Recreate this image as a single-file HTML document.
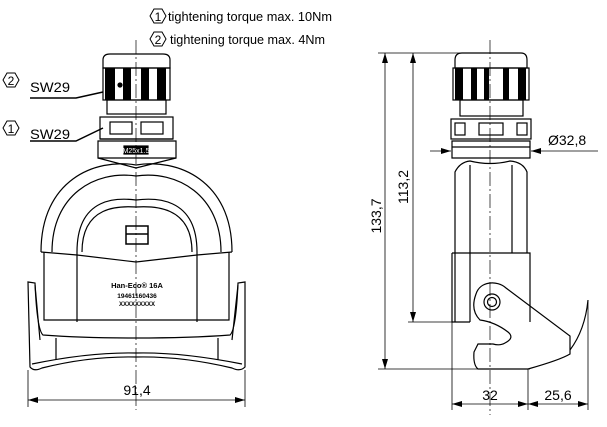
<!DOCTYPE html>
<html><head><style>html,body{margin:0;padding:0;background:#fff}svg{display:block}</style></head>
<body>
<svg width="607" height="427" viewBox="0 0 607 427" xmlns="http://www.w3.org/2000/svg" font-family="Liberation Sans, sans-serif" fill="none" stroke="#000" stroke-width="1.2">
<defs>
<marker id="a" viewBox="0 0 10 6" refX="10" refY="3" markerWidth="10" markerHeight="6" orient="auto-start-reverse" markerUnits="userSpaceOnUse"><path d="M0,0 L10,3 L0,6 Z" fill="#000" stroke="none"/></marker>
</defs>
<!-- top notes -->
<g stroke-width="1">
<polygon points="150,16 154,9 162,9 166,16 162,23 154,23"/>
<polygon points="150,39 154,32 162,32 166,39 162,46 154,46"/>
</g>
<g fill="#000" stroke="none" font-size="13">
<text x="158" y="21" text-anchor="middle" font-size="12">1</text>
<text x="158" y="44" text-anchor="middle" font-size="12">2</text>
<text x="168" y="21" textLength="164" lengthAdjust="spacingAndGlyphs">tightening torque max. 10Nm</text>
<text x="170" y="44" textLength="155" lengthAdjust="spacingAndGlyphs">tightening torque max. 4Nm</text>
</g>
<!-- left labels -->
<g stroke-width="1">
<polygon points="3,80 7,73 15,73 19,80 15,87 7,87"/>
<polygon points="3,128 7,121 15,121 19,128 15,135 7,135"/>
</g>
<g fill="#000" stroke="none" font-size="14">
<text x="11" y="85" text-anchor="middle" font-size="12">2</text>
<text x="11" y="133" text-anchor="middle" font-size="12">1</text>
<text x="30" y="92" textLength="40" lengthAdjust="spacingAndGlyphs">SW29</text>
<text x="30" y="139" textLength="40" lengthAdjust="spacingAndGlyphs">SW29</text>
</g>
<path d="M30,98 H76 L103,92 M30,141 H76 L103,128" stroke-width="1.5"/>
<!-- centre lines -->
<path d="M136,40 V410 M490,40 V415" stroke-width="0.7" stroke-dasharray="14,3,2,3"/>
<!-- FRONT: gland -->
<path d="M103,68 V60 Q103,54 110,54 H163 Q170,54 170,60 V68 Z"/>
<rect x="103" y="68" width="67" height="32"/>
<g fill="#000" stroke="none">
<rect x="105" y="68" width="10" height="32"/><rect x="123" y="68" width="8" height="32"/><rect x="141" y="68" width="8" height="32"/><rect x="157" y="68" width="9" height="32"/>
</g>
<circle cx="120" cy="85" r="2" fill="#000"/>
<rect x="107" y="100" width="59" height="14"/>
<rect x="100" y="117" width="73" height="22"/>
<rect x="110" y="122" width="22" height="12"/><rect x="141" y="122" width="22" height="12"/>
<path d="M100,139 H173 M98,141 H176 V158 H98 Z"/>
<rect x="124" y="146" width="24" height="8" fill="#000"/>
<text x="136" y="153" font-size="7" fill="#fff" stroke="none" text-anchor="middle">M25x1.5</text>
<!-- FRONT: housing -->
<path d="M41,252 C41,180 95,158 136,165 C177,158 232,180 232,252"/>
<path d="M52,252 C52,195 95,170 136,176 C177,170 221,195 221,252"/>
<path d="M98,158 L136,168 L176,158"/>
<path d="M77,252 V322 M197,252 V322"/>
<path d="M77,252 C77,195 120,198 136,200 C152,198 197,195 197,252"/>
<path d="M82,252 C82,205 120,206 136,207 C152,206 192,205 192,252"/>
<path d="M41,252 L77,255 L136,262 L197,255 L232,252"/>
<path d="M44,252 V320 H229 V252"/>
<path d="M126,226 H148 V244 H126 Z M126,234 H148" stroke-width="1.5"/>
<g fill="#000" stroke="none" text-anchor="middle" font-weight="bold">
<text x="137" y="288" font-size="7.5">Han-Eco® 16A</text>
<text x="137" y="298" font-size="6.5">19461160436</text>
<text x="137" y="306" font-size="6">XXXXXXXXX</text>
</g>
<!-- FRONT: frame -->
<path d="M28,282 L30,367 Q34,372 42,368 Q90,356 136,357 Q182,356 232,368 Q240,372 245,367 V282 L238,283 Q236,330 230,335 Q190,338 136,338 Q82,338 43,335 Q37,330 35,283 Z"/>
<path d="M35,285 L40,340 M238,285 L232,340 M56,338 V360 M218,338 V360"/>
<path d="M32,364 Q90,352 136,353 Q182,352 242,364"/>
<!-- dim 91,4 -->
<path d="M28,370 V407 M245,370 V407" stroke-width="0.8"/>
<path d="M28,400 H245" stroke-width="0.8" marker-start="url(#a)" marker-end="url(#a)"/>
<text x="137" y="395" font-size="14" fill="#000" stroke="none" text-anchor="middle">91,4</text>
<!-- SIDE view -->
<path d="M455,68 V60 Q455,53 462,53 H521 Q527,53 527,60 V68 Z"/>
<rect x="453" y="68" width="76" height="32"/>
<g fill="#000" stroke="none">
<rect x="455" y="68" width="8" height="32"/><rect x="471" y="68" width="6" height="32"/><rect x="484" y="68" width="5" height="32"/><rect x="503" y="68" width="6" height="32"/><rect x="518" y="68" width="8" height="32"/>
</g>
<rect x="460" y="100" width="63" height="16"/>
<rect x="451" y="119" width="80" height="20"/>
<rect x="455" y="123" width="10" height="12"/><rect x="479" y="123" width="24" height="12"/><rect x="517" y="123" width="10" height="12"/>
<path d="M452,141 H530 V158 H452 Z M452,147 H530"/>
<path d="M455,322 V172 Q460,162 470,161 Q490,166 510,161 Q523,162 527,172 V253"/>
<path d="M470,165 V322 M512,165 V253"/>
<path d="M452,253 H530 V322 M452,253 V322 H470"/>
<path d="M476,294 C480,281 497,280 506,288 L570,336 L570,354 Q560,360 528,369 L478,369 Q473,365 474,352 L478,344 L493,344 Q500,346 505,343 Q515,338 508,332 Q495,322 480,320 Q470,310 476,294 Z"/>
<circle cx="492" cy="302" r="8"/><circle cx="492" cy="302" r="4.5"/>
<path d="M570,350 Q585,330 588,300"/>
<!-- side dims -->
<g stroke-width="0.8">
<path d="M378,53 H470 M408,322 H455 M378,369 H530"/>
<path d="M385,53 V369" marker-start="url(#a)" marker-end="url(#a)"/>
<path d="M413,53 V322" marker-start="url(#a)" marker-end="url(#a)"/>
<path d="M452,322 V410 M528,369 V410 M588,300 V410"/>
<path d="M452,404 H528" marker-start="url(#a)" marker-end="url(#a)"/>
<path d="M528,404 H588" marker-start="url(#a)" marker-end="url(#a)"/>
<path d="M430,151 H451" marker-end="url(#a)"/>
<path d="M598,151 H531" marker-end="url(#a)"/>
</g>
<g fill="#000" stroke="none" font-size="14">
<text transform="translate(381,216) rotate(-90)" text-anchor="middle">133,7</text>
<text transform="translate(408,187) rotate(-90)" text-anchor="middle">113,2</text>
<text x="490" y="400" text-anchor="middle">32</text>
<text x="558" y="400" text-anchor="middle">25,6</text>
<text x="548" y="145">Ø32,8</text>
</g>
</svg>
</body></html>
